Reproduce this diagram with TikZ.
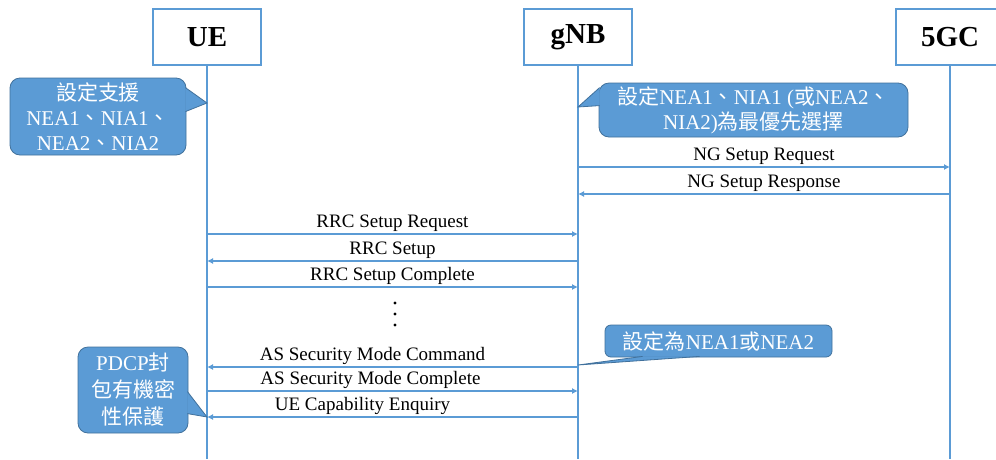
\documentclass[tikz,border=0pt]{standalone}
\usepackage{fontspec}
\setmainfont{Liberation Serif}
\newfontfamily\cjk{Noto Sans CJK TC}
\usetikzlibrary{arrows.meta,calc}

\definecolor{lineblue}{HTML}{5B9BD5}
\definecolor{calloutedge}{HTML}{41719C}

\tikzset{
  entity/.style={draw=lineblue, line width=1.5pt, fill=white, minimum width=108pt, minimum height=56pt, font=\fontsize{29}{34}\selectfont\bfseries},
  lifeline/.style={lineblue, line width=2.4pt},
  msg/.style={lineblue, line width=2pt, -{Latex[length=6pt,width=6pt]}},
  msglabel/.style={anchor=south, inner sep=1.5pt, text=black, font=\fontsize{19}{23}\selectfont},
  callout/.style={fill=lineblue, draw=calloutedge, line width=0.8pt, rounded corners=10pt, text=white, align=center, font=\fontsize{21}{25}\selectfont, inner sep=0pt},
  wedge/.style={fill=lineblue},
  wedgeline/.style={draw=calloutedge, line width=0.8pt},
}

\begin{document}
\begin{tikzpicture}[x=1pt, y=-1pt]
    \clip (0,0) rectangle (996,459);
    \fill[white] (0,0) rectangle (996,459);

    % entities and lifelines
    \foreach \name/\x/\label in {ue/207/UE, gnb/578/gNB, core/950/5GC} {
        \node[entity] (\name) at (\x,37) {\label};
        \coordinate (\name-end) at (\x,459);
        \draw[lifeline] (\name) -- (\name-end);
    }

    % messages
    \foreach \y/\from/\to/\dx/\txt in {
        167/gnb/core/0/NG Setup Request,
        194/core/gnb/0/NG Setup Response,
        234/ue/gnb/0/RRC Setup Request,
        261/gnb/ue/0/RRC Setup,
        287/ue/gnb/0/RRC Setup Complete,
        367/gnb/ue/-20/AS Security Mode Command,
        391/ue/gnb/-22/AS Security Mode Complete,
        417/gnb/ue/-30/UE Capability Enquiry} {
        \draw[msg] (\from |- 0,\y) -- (\to |- 0,\y) node[msglabel, midway, xshift=\dx pt] {\txt};
    }
    \foreach \y in {303,314,325} {
        \fill (395,\y) circle (1.6);
    }

    % callouts
    \node[callout, minimum width=176pt, minimum height=77pt] (c1) at (98,116.5) {{\cjk 設定支援}\\NEA1{\cjk 、}NIA1{\cjk 、}\\NEA2{\cjk 、}NIA2};
    \fill[wedge] ($(c1.north east)+(-1,10)$) -- (ue |- 0,103) -- ($(c1.north east)+(-1,34)$) -- cycle;
    \draw[wedgeline] ($(c1.north east)+(-1,10)$) -- (ue |- 0,103) -- ($(c1.north east)+(-1,34)$);

    \node[callout, minimum width=309pt, minimum height=54pt] (c2) at (753.5,110) {{\cjk 設定}NEA1{\cjk 、}NIA1 ({\cjk 或}NEA2{\cjk 、}\\NIA2){\cjk 為最優先選擇}};
    \fill[wedge] ($(c2.north west)+(1,5)$) -- (gnb |- 0,107) -- ($(c2.north west)+(1,23)$) -- cycle;
    \draw[wedgeline] ($(c2.north west)+(1,5)$) -- (gnb |- 0,107) -- ($(c2.north west)+(1,23)$);

    \node[callout, rounded corners=6pt, minimum width=227pt, minimum height=32pt] (c3) at (718.5,341) {{\cjk 設定為}NEA1{\cjk 或}NEA2};
    \fill[wedge] ($(c3.south west)+(38,-1)$) -- (gnb |- 0,365) -- ($(c3.south west)+(95,-1)$) -- cycle;
    \draw[wedgeline] ($(c3.south west)+(38,-1)$) -- (gnb |- 0,365) -- ($(c3.south west)+(95,-1)$);

    \node[callout, minimum width=110pt, minimum height=86pt, font=\fontsize{21}{27}\selectfont] (c4) at (133,390) {PDCP{\cjk 封}\\{\cjk 包有機密}\\{\cjk 性保護}};
    \fill[wedge] ($(c4.north east)+(-1,45)$) -- (ue |- 0,417) -- ($(c4.north east)+(-1,67)$) -- cycle;
    \draw[wedgeline] ($(c4.north east)+(-1,45)$) -- (ue |- 0,417) -- ($(c4.north east)+(-1,67)$);
\end{tikzpicture}
\end{document}
